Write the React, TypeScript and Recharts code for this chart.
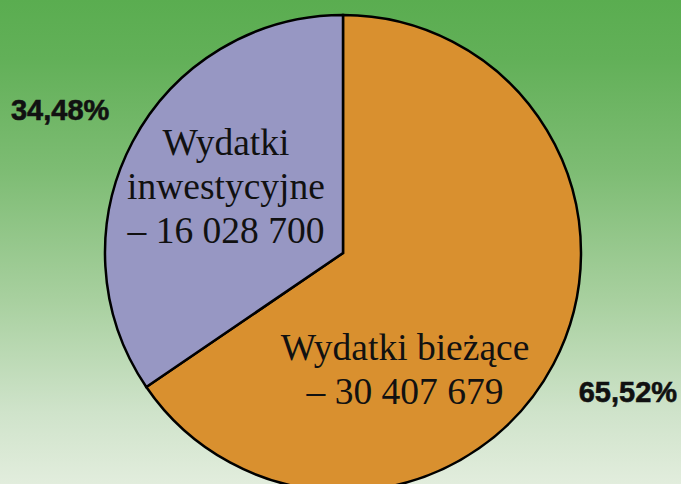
import { PieChart, Pie, Cell } from 'recharts'

const categories = ['Wydatki bieżące', 'Wydatki inwestycyjne']
const amounts = [30407679, 16028700]
const amountLabels = ['– 30 407 679', '– 16 028 700']
const percentLabels = ['65,52%', '34,48%']
const nameLines = [['Wydatki bieżące'], ['Wydatki', 'inwestycyjne']]

const COLORS = ['#d9902f', '#9797c3']

// text layout relative to the pie centre (in-slice captions) and nudges for the % labels
const CAPTION_POS = [
  { dx: 62, dy: 107 },
  { dx: -117, dy: -98 },
]
const PCT_NUDGE = [
  { dx: 4, dy: -10 },
  { dx: -2, dy: 6 },
]
const LINE_H = 44

const data = categories.map((name, i) => ({
  name,
  value: amounts[i],
  lines: [...nameLines[i], amountLabels[i]],
  pct: percentLabels[i],
}))

const RADIAN = Math.PI / 180

function renderLabel(props: any) {
  const { cx, cy, midAngle, outerRadius, index } = props
  const entry = data[index]
  const r = outerRadius * 1.335
  const px = cx + r * Math.cos(-midAngle * RADIAN) + PCT_NUDGE[index].dx
  const py = cy + r * Math.sin(-midAngle * RADIAN) + PCT_NUDGE[index].dy
  const pos = CAPTION_POS[index]
  return (
    <g>
      <text
        x={px}
        y={py}
        textAnchor="middle"
        dominantBaseline="central"
        fill="#111"
        stroke="#111"
        strokeWidth={0.6}
        style={{ fontFamily: '"Liberation Sans", Arial, sans-serif', fontWeight: 700, fontSize: 29 }}
      >
        {entry.pct}
      </text>
      {entry.lines.map((line, li) => (
        <text
          key={li}
          x={cx + pos.dx}
          y={cy + pos.dy + li * LINE_H}
          textAnchor="middle"
          fill="#111"
          style={{ fontFamily: '"Liberation Serif", "Times New Roman", serif', fontSize: 37.5 }}
        >
          {line}
        </text>
      ))}
    </g>
  )
}

export default function App() {
  return (
    <div
      style={{
        position: 'absolute',
        left: 0,
        top: 0,
        width: 681,
        height: 484,
        overflow: 'hidden',
        background:
          'linear-gradient(to bottom, #5aad50 0%, #62b058 12%, #7dbc73 35%, #a8d09f 62%, #cfe3ca 85%, #e2eddd 100%)',
      }}
    >
      <PieChart width={681} height={484} margin={{ top: 0, right: 0, bottom: 0, left: 0 }}>
        <Pie
          data={data}
          dataKey="value"
          nameKey="name"
          cx={343}
          cy={253}
          outerRadius={238}
          startAngle={90}
          endAngle={-270}
          stroke="#000"
          strokeWidth={2.5}
          label={renderLabel}
          labelLine={false}
          isAnimationActive={false}
        >
          {data.map((_, i) => (
            <Cell key={`cell-${i}`} fill={COLORS[i]} stroke="#000" strokeWidth={2.5} />
          ))}
        </Pie>
      </PieChart>
    </div>
  )
}
